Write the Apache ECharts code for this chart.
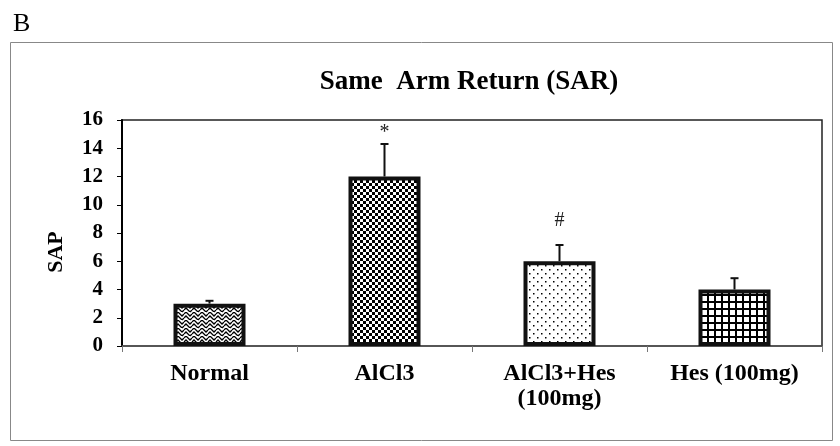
<!DOCTYPE html>
<html>
<head>
<meta charset="utf-8">
<script src="https://cdn.jsdelivr.net/npm/echarts@6/dist/echarts.min.js"></script>
<style>
html, body { margin: 0; padding: 0; background: #fff; }
#main { width: 840px; height: 446px; }
</style>
</head>
<body>
<div id="main"></div>
<script>
var categories = ['Normal', 'AlCl3', 'AlCl3+Hes\n(100mg)', 'Hes (100mg)'];
var means = [3, 12, 6, 4];
var errors = [0.2, 2.3, 1.15, 0.8];
var signs = ['', '*', '#', ''];
var signY = [null, 15.1, 8.9, null];

function makePattern(w, h, draw) {
    var c = document.createElement('canvas');
    c.width = w; c.height = h;
    var ctx = c.getContext('2d');
    ctx.fillStyle = '#fff';
    ctx.fillRect(0, 0, w, h);
    ctx.fillStyle = '#000';
    ctx.strokeStyle = '#000';
    draw(ctx);
    return { image: c, repeat: 'repeat' };
}

// zigzag
var zigzag = makePattern(8, 8, function (ctx) {
    ctx.lineWidth = 1.3;
    ctx.beginPath();
    ctx.moveTo(0, 2); ctx.lineTo(2, 0); ctx.lineTo(4, 2); ctx.lineTo(6, 4); ctx.lineTo(8, 2);
    ctx.moveTo(0, 6); ctx.lineTo(2, 4); ctx.lineTo(4, 6); ctx.lineTo(6, 8);
    ctx.moveTo(6, 0); ctx.lineTo(8, -2);
    ctx.moveTo(6, 8); ctx.lineTo(8, 6);
    ctx.stroke();
});
// checker
var checker = makePattern(6, 6, function (ctx) {
    ctx.fillRect(0, 0, 3, 3);
    ctx.fillRect(3, 3, 3, 3);
});
// dots
var dots = makePattern(8, 8, function (ctx) {
    ctx.fillRect(1, 1, 1.5, 1.5);
    ctx.fillRect(5, 5, 1.5, 1.5);
});
// grid
var gridPat = makePattern(7.5, 7.5, function (ctx) {
    ctx.fillRect(0, 0, 2, 7.5);
    ctx.fillRect(0, 0, 7.5, 2);
});
var patterns = [zigzag, checker, dots, gridPat];

var fontFamily = '"Liberation Serif", "Times New Roman", serif';
var myChart = echarts.init(document.getElementById('main'));

option = {
    animation: false,
    backgroundColor: '#fff',
    title: {
        text: 'Same  Arm Return (SAR)',
        left: 464,
        top: 64,
        textAlign: 'center',
        textStyle: { fontFamily: fontFamily, fontSize: 27, fontWeight: 'bold', color: '#000' }
    },
    graphic: [
        {
            type: 'text', left: 13, top: 11,
            style: { text: 'B', fontFamily: fontFamily, fontSize: 26, fill: '#000' }
        },
        {
            type: 'text', x: 56, y: 252, rotation: Math.PI / 2,
            style: {
                text: 'SAP', fontFamily: fontFamily, fontSize: 22, fontWeight: 'bold', fill: '#000',
                align: 'center', verticalAlign: 'middle'
            }
        },
        {
            type: 'rect', shape: { x: 10.5, y: 42.5, width: 822, height: 398 },
            style: { fill: null, stroke: '#888', lineWidth: 1 }, silent: true
        }
    ],
    grid: {
        left: 122, right: 18, top: 120, bottom: 100,
        show: true, borderColor: '#222', borderWidth: 1.5, backgroundColor: 'transparent'
    },
    xAxis: {
        type: 'category',
        data: categories,
        axisLine: { lineStyle: { color: '#555', width: 1.5 } },
        axisTick: { show: true, length: 6, lineStyle: { color: '#777' } },
        axisLabel: {
            margin: 15, lineHeight: 25,
            fontFamily: fontFamily, fontSize: 24, fontWeight: 'bold', color: '#000'
        }
    },
    yAxis: {
        type: 'value',
        min: 0, max: 16, interval: 2,
        axisLine: { show: true, lineStyle: { color: '#000', width: 2 } },
        axisTick: { show: true, length: 5, lineStyle: { color: '#000' } },
        splitLine: { show: false },
        axisLabel: { fontFamily: fontFamily, fontSize: 21, fontWeight: 'bold', color: '#000', margin: 19 }
    },
    series: [
        {
            type: 'bar',
            barWidth: 72,
            data: means.map(function (v, i) {
                return {
                    value: v,
                    itemStyle: { color: patterns[i], borderColor: '#111', borderWidth: 4 }
                };
            })
        },
        {
            type: 'custom',
            data: means.map(function (v, i) { return [i, v, errors[i], signY[i] === null ? 0 : signY[i]]; }),
            renderItem: function (params, api) {
                var i = api.value(0);
                var base = api.coord([i, api.value(1)]);
                var top = api.coord([i, api.value(1) + api.value(2)]);
                var children = [
                    { type: 'line', shape: { x1: base[0], y1: base[1], x2: top[0], y2: top[1] },
                      style: { stroke: '#111', lineWidth: 2 } },
                    { type: 'line', shape: { x1: top[0] - 4, y1: top[1], x2: top[0] + 4, y2: top[1] },
                      style: { stroke: '#111', lineWidth: 2 } }
                ];
                if (signs[i]) {
                    var p = api.coord([i, api.value(3)]);
                    children.push({
                        type: 'text',
                        style: {
                            text: signs[i], x: p[0], y: p[1], align: 'center', verticalAlign: 'middle',
                            fontFamily: fontFamily, fontSize: 20, fill: '#222'
                        }
                    });
                }
                return { type: 'group', children: children };
            },
            z: 5
        }
    ]
};

myChart.setOption(option);
</script>
</body>
</html>
